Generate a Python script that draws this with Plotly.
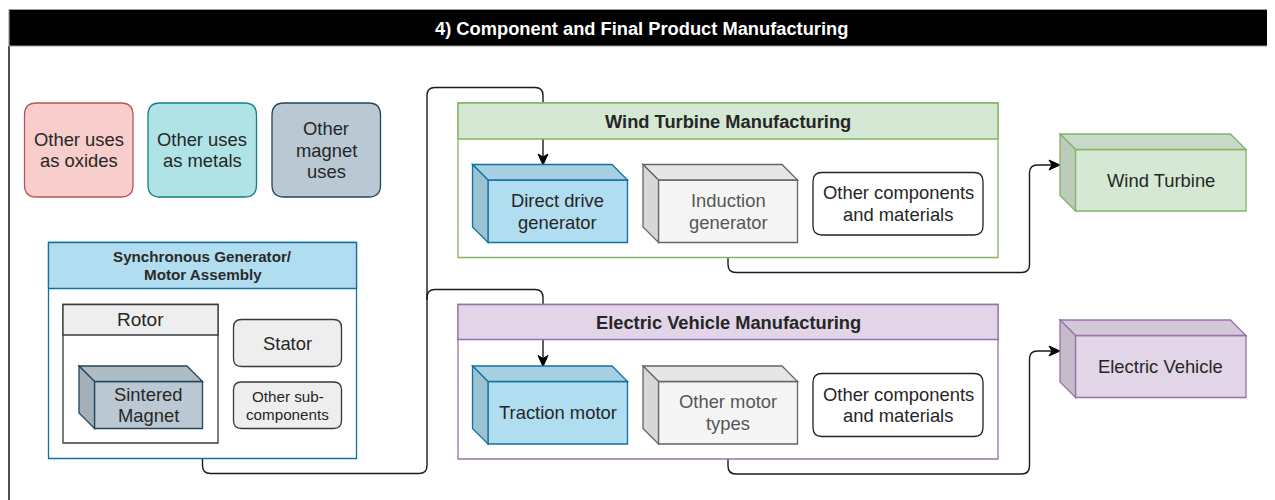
import plotly.graph_objects as go

# ---------------- data (labels) ----------------
title_text = "4) Component and Final Product Manufacturing"
use_labels = ["Other uses<br>as oxides", "Other uses<br>as metals", "Other<br>magnet<br>uses"]
use_keys = ["red", "teal", "slate"]
assembly_title = "Synchronous Generator/<br>Motor Assembly"
rotor_title = "Rotor"
magnet_label = "Sintered<br>Magnet"
assembly_parts = ["Stator", "Other sub-<br>components"]
lane_titles = ["Wind Turbine Manufacturing", "Electric Vehicle Manufacturing"]
lane_keys = ["green", "purple"]
lane_items = [["Direct drive<br>generator", "Induction<br>generator", "Other components<br>and materials"],
              ["Traction motor", "Other motor<br>types", "Other components<br>and materials"]]
product_labels = ["Wind Turbine", "Electric Vehicle"]

# ---------------- styles ----------------
PAL = {
    "red": ("#f8cecc", "#b85450"),
    "teal": ("#b0e3e6", "#0e8088"),
    "slate": ("#bac8d3", "#23445d"),
    "blue": ("#b1ddf0", "#10739e"),
    "green": ("#d5e8d4", "#82b366"),
    "purple": ("#e1d5e7", "#9673a6"),
    "grey": ("#f5f5f5", "#666666"),
    "lgrey": ("#eeeeee", "#36393d"),
    "white": ("#ffffff", "#222222"),
}
FONT = "Liberation Sans, Arial, Helvetica, sans-serif"
TXT = "#262626"
FS = 18.4

# ---------------- geometry ----------------
use_boxes = [(24.5, 103, 133, 197), (148, 103, 256.5, 197), (272, 103, 380.5, 197)]
assembly_box = (48.5, 242.5, 356.5, 458.5, 288.5)
rotor_box = (63, 304.5, 218, 443, 335)
magnet_cube = (79, 366, 202.5, 428.5)
part_boxes = [(233.5, 319.5, 341.5, 366.5), (233.5, 382, 341.5, 428.5)]
lane_boxes = [(458, 103, 998, 257.5, 139), (458, 304.5, 998, 459, 339.5)]
lane_item_boxes = [[(472.5, 164.5, 627.5, 242.5), (643, 164.5, 797.5, 242.5), (813, 172.5, 983, 235)],
                   [(472.5, 366, 627.5, 444), (643, 366, 797.5, 444), (813, 373.5, 983, 436.5)]]
lane_item_styles = [["blue", "grey", "white"], ["blue", "grey", "white"]]
product_cubes = [(1060, 134, 1246, 211), (1060, 320, 1246, 397.5)]

shapes = []
annos = []


def darken(hexcol, f):
    h = hexcol.lstrip("#")
    r, g, b = (int(h[i:i + 2], 16) for i in (0, 2, 4))
    return "#%02x%02x%02x" % (int(r * f), int(g * f), int(b * f))


def rrect(x0, y0, x1, y1, r, fill, line, lw=1.3):
    p = (f"M {x0+r},{y0} L {x1-r},{y0} Q {x1},{y0} {x1},{y0+r} L {x1},{y1-r} "
         f"Q {x1},{y1} {x1-r},{y1} L {x0+r},{y1} Q {x0},{y1} {x0},{y1-r} "
         f"L {x0},{y0+r} Q {x0},{y0} {x0+r},{y0} Z")
    shapes.append(dict(type="path", path=p, fillcolor=fill, line=dict(color=line, width=lw)))


def rect(x0, y0, x1, y1, fill, line, lw=1.3):
    shapes.append(dict(type="rect", x0=x0, y0=y0, x1=x1, y1=y1, fillcolor=fill,
                       line=dict(color=line, width=lw)))


def poly(pts, fill, line, lw=1.3):
    p = "M " + " L ".join(f"{x},{y}" for x, y in pts) + " Z"
    shapes.append(dict(type="path", path=p, fillcolor=fill, line=dict(color=line, width=lw)))


def cube(x0, y0, x1, y1, fill, line, s=15.5):
    poly([(x0 + s, y0 + s), (x1, y0 + s), (x1, y1), (x0 + s, y1)], fill, line)
    poly([(x0, y0), (x1 - s, y0), (x1, y0 + s), (x0 + s, y0 + s)], darken(fill, 0.94), line)
    poly([(x0, y0), (x0 + s, y0 + s), (x0 + s, y1), (x0, y1 - s)], darken(fill, 0.88), line)
    return ((x0 + s + x1) / 2, (y0 + s + y1) / 2)


def text(x, y, t, size=FS, color=TXT, bold=False, lh=1.17):
    lines = t.split("<br>")
    n = len(lines)
    for i, ln in enumerate(lines):
        if bold:
            ln = f"<b>{ln}</b>"
        annos.append(dict(x=x, y=y + (i - (n - 1) / 2) * size * lh, text=ln, showarrow=False,
                          xanchor="center", yanchor="middle",
                          font=dict(family=FONT, size=size, color=color), align="center"))


def connector(pts, r=8, color="#1a1a1a", lw=1.4):
    p = f"M {pts[0][0]},{pts[0][1]}"
    for i in range(1, len(pts) - 1):
        (ax, ay), (bx, by), (cx, cy) = pts[i - 1], pts[i], pts[i + 1]

        def toward(px, py, qx, qy, d):
            dx, dy = qx - px, qy - py
            L = (dx * dx + dy * dy) ** 0.5
            return px + dx / L * d, py + dy / L * d
        sx, sy = toward(bx, by, ax, ay, r)
        ex, ey = toward(bx, by, cx, cy, r)
        p += f" L {sx},{sy} Q {bx},{by} {ex},{ey}"
    p += f" L {pts[-1][0]},{pts[-1][1]}"
    shapes.append(dict(type="path", path=p, line=dict(color=color, width=lw)))


def arrow(tx, ty, direction, color="#000000"):
    if direction == "down":
        pts = [(tx, ty), (tx - 5, ty - 11), (tx, ty - 8), (tx + 5, ty - 11)]
    else:
        pts = [(tx, ty), (tx - 11, ty - 5), (tx - 8, ty), (tx - 11, ty + 5)]
    poly(pts, color, color, 1)


# ---------------- frame ----------------
shapes.append(dict(type="line", x0=9, x1=9, y0=46, y1=520, line=dict(color="#222222", width=1.6)))
rect(9, 9.5, 1300, 46, "#000000", "#9a9a9a", 1.2)
text(641, 28.5, title_text, size=18.3, color="#ffffff", bold=True)

# ---------------- connectors (drawn before containers) ----------------
connector([(202.5, 458.5), (202.5, 473.5), (427, 473.5), (427, 87.5), (543, 87.5), (543, 157)])
connector([(427, 300), (427, 289.5), (543, 289.5), (543, 359)])
connector([(728, 257.5), (728, 272.5), (1029.5, 272.5), (1029.5, 165), (1052, 165)])
connector([(728, 459), (728, 474), (1029.5, 474), (1029.5, 351), (1052, 351)])
arrow(543, 165, "down")
arrow(543, 366.5, "down")
arrow(1060, 165, "right")
arrow(1060, 351, "right")

# ---------------- other uses ----------------
for (x0, y0, x1, y1), lab, key in zip(use_boxes, use_labels, use_keys):
    fill, line = PAL[key]
    rrect(x0, y0, x1, y1, 12, fill, line)
    text((x0 + x1) / 2, (y0 + y1) / 2, lab)

# ---------------- assembly ----------------
x0, y0, x1, y1, yh = assembly_box
fill, line = PAL["blue"]
rect(x0, y0, x1, y1, "#ffffff", line)
rect(x0, y0, x1, yh, fill, line)
text((x0 + x1) / 2, (y0 + yh) / 2, assembly_title, size=15.2, color="#2a2a2a", bold=True, lh=1.2)

x0, y0, x1, y1, yh = rotor_box
fill, line = PAL["lgrey"]
rect(x0, y0, x1, y1, "#ffffff", line)
rect(x0, y0, x1, yh, fill, line)
text((x0 + x1) / 2, (y0 + yh) / 2, rotor_title, size=19)

cx, cy = cube(*magnet_cube, *PAL["slate"])
text(cx, cy, magnet_label)

for (bx0, by0, bx1, by1), lab, sz in zip(part_boxes, assembly_parts, [FS, 15.2]):
    rrect(bx0, by0, bx1, by1, 8, *PAL["lgrey"])
    text((bx0 + bx1) / 2, (by0 + by1) / 2, lab, size=sz)

# ---------------- lanes ----------------
for lb, title, key, items, boxes, styles in zip(lane_boxes, lane_titles, lane_keys,
                                                lane_items, lane_item_boxes, lane_item_styles):
    x0, y0, x1, y1, yh = lb
    fill, line = PAL[key]
    shapes.append(dict(type="rect", x0=x0, y0=y0, x1=x1, y1=y1,
                       line=dict(color=line, width=1.3), fillcolor="rgba(0,0,0,0)"))
    rect(x0, y0, x1, yh, fill, line)
    text((x0 + x1) / 2, (y0 + yh) / 2, title, size=18.3, bold=True)
    for lab, (bx0, by0, bx1, by1), st in zip(items, boxes, styles):
        f, l = PAL[st]
        if st == "white":
            rrect(bx0, by0, bx1, by1, 9, f, l)
            text((bx0 + bx1) / 2, (by0 + by1) / 2, lab)
        else:
            cx, cy = cube(bx0, by0, bx1, by1, f, l)
            text(cx, cy, lab, color="#555555" if st == "grey" else TXT)

# ---------------- products ----------------
for (bx0, by0, bx1, by1), lab, key in zip(product_cubes, product_labels, lane_keys):
    cx, cy = cube(bx0, by0, bx1, by1, *PAL[key])
    text(cx, cy, lab)

fig = go.Figure()
# the page body adds an 8px margin, so the axes start at 8 to keep page pixels == data units
fig.update_layout(
    width=1275, height=500,
    margin=dict(l=0, r=0, t=0, b=0),
    paper_bgcolor="#ffffff", plot_bgcolor="#ffffff",
    xaxis=dict(range=[8, 1283], visible=False, fixedrange=True),
    yaxis=dict(range=[508, 8], visible=False, fixedrange=True),
    shapes=shapes, annotations=annos, showlegend=False,
)
fig.write_html("out.html")
